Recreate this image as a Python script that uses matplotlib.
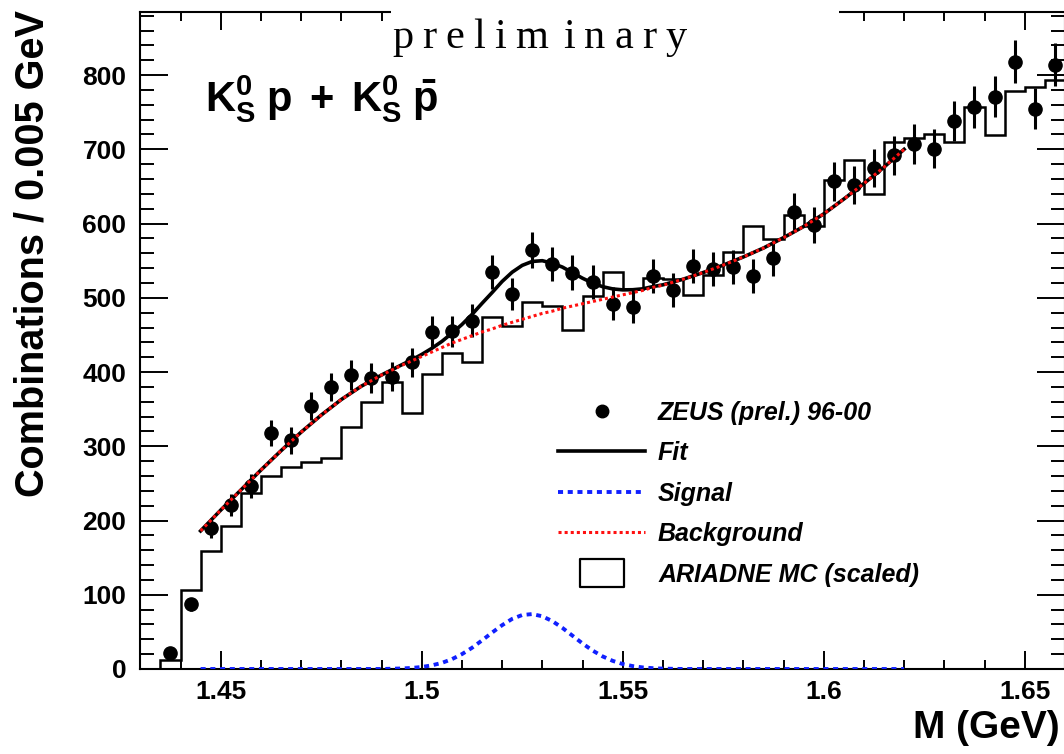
import matplotlib
matplotlib.use('Agg')
import matplotlib.pyplot as plt
from matplotlib.lines import Line2D
from matplotlib.patches import Rectangle
from matplotlib.path import Path
from matplotlib.ticker import MultipleLocator
import numpy as np

plt.rcParams['font.family'] = ['Liberation Sans', 'DejaVu Sans']
plt.rcParams['font.weight'] = 'bold'
plt.rcParams['mathtext.fontset'] = 'custom'
plt.rcParams['mathtext.rm'] = 'Liberation Sans:bold'
plt.rcParams['mathtext.bf'] = 'Liberation Sans:bold'
plt.rcParams['mathtext.it'] = 'Liberation Sans:bold:italic'

## ZEUS K0s p data, 5 MeV bins starting at 1.435 GeV
bin_lo = 1.435
bin_w = 0.005
counts = [21, 87, 190, 221, 247, 318, 308, 354, 380, 396,
          392, 394, 413, 454, 455, 469, 535, 505, 564, 545,
          534, 521, 492, 488, 529, 511, 543, 539, 542, 529,
          554, 616, 598, 657, 652, 675, 692, 707, 701, 738,
          757, 771, 818, 755, 814]
errors = [5, 9, 14, 15, 16, 18, 18, 19, 19, 20,
          20, 20, 20, 21, 21, 22, 23, 22, 24, 23,
          23, 23, 22, 22, 23, 23, 23, 23, 23, 23,
          24, 25, 24, 26, 26, 26, 26, 27, 26, 27,
          28, 28, 29, 27, 29]
# ARIADNE MC (scaled), same binning
mc_counts = [12, 106, 159, 193, 237, 260, 272, 279, 284, 326,
             360, 386, 345, 397, 426, 413, 474, 462, 494, 489,
             456, 503, 535, 512, 527, 525, 504, 531, 562, 597,
             579, 612, 597, 659, 685, 640, 710, 715, 721, 710,
             757, 719, 779, 784, 794]

# fit curves
curve_m = [1.445, 1.45, 1.455, 1.46, 1.465, 1.47, 1.475, 1.48, 1.485, 1.49, 1.495,
           1.4975, 1.50, 1.5025, 1.505, 1.5075, 1.51, 1.5125, 1.515, 1.5175, 1.52,
           1.5225, 1.525, 1.5275, 1.53, 1.5325, 1.535, 1.5375, 1.54, 1.5425, 1.545,
           1.5475, 1.55, 1.5525, 1.555, 1.5575, 1.56,
           1.565, 1.57, 1.575, 1.58, 1.585, 1.59, 1.595, 1.60, 1.605, 1.61, 1.615, 1.62]
bkg = [186, 214, 241, 268, 294, 319, 342, 363, 381, 396, 409,
       415, 421, 427, 433, 439, 444, 449, 454, 458, 463,
       467, 471, 475, 479, 482, 486, 489, 492, 495, 498,
       501, 504, 507, 510, 514, 517,
       525, 534, 544, 555, 567, 581, 596, 613, 633, 654, 676, 700]
sig = [0, 0, 0, 0, 0, 0, 0, 0, 0, 0, 0.7,
       1.4, 2.7, 4.9, 8.2, 13.2, 20, 28.5, 38.5, 49, 59,
       67.5, 72.7, 74, 71, 64.5, 55.4, 44.9, 34.4, 24.9, 17,
       11, 6.7, 3.9, 2.1, 1.1, 0.5,
       0, 0, 0, 0, 0, 0, 0, 0, 0, 0, 0, 0]

centers = bin_lo + bin_w * (np.arange(len(counts)) + 0.5)
edges = bin_lo + bin_w * np.arange(len(mc_counts) + 1)
fit = np.array(bkg) + np.array(sig)

fig = plt.figure(figsize=(10.64, 7.54), dpi=100)
ax = fig.add_axes([140.3 / 1064, 85 / 754, 924.6 / 1064, 657 / 754])

ax.stairs(mc_counts, edges, baseline=0, color='k', lw=1.8, zorder=2)
ax.errorbar(centers, counts, yerr=errors, fmt='o', color='k', ms=9.5,
            elinewidth=2.2, capsize=0, zorder=3)
ax.plot(curve_m, fit, color='k', lw=2.6, zorder=4)
ax.plot(curve_m, bkg, color='#ff1010', lw=2.2, ls=(0, (1, 1)), zorder=5)
ax.plot(curve_m, sig, color='#1020ff', lw=2.8, ls=(0, (1.3, 1.2)), zorder=5)

ax.set_xlim(1.43, 1.66)
ax.set_ylim(0, 885)
ax.set_xticks([1.45, 1.5, 1.55, 1.6, 1.65])
ax.set_xticklabels(['1.45', '1.5', '1.55', '1.6', '1.65'])
ax.xaxis.set_minor_locator(MultipleLocator(0.01))
ax.yaxis.set_major_locator(MultipleLocator(100))
ax.yaxis.set_minor_locator(MultipleLocator(20))
ax.tick_params(which='both', direction='in', top=True, right=True, width=1.4, labelsize=19)
ax.tick_params(axis='x', which='major', length=13, pad=8)
ax.tick_params(axis='x', which='minor', length=6.5)
ax.tick_params(axis='y', which='major', length=20, pad=10)
ax.tick_params(axis='y', which='minor', length=10)
for sp in ax.spines.values():
    sp.set_linewidth(1.5)

ax.set_xlabel('M (GeV)', fontsize=28, fontweight='bold')
ax.xaxis.set_label_coords(0.9947, -0.063)
ax.xaxis.label.set_ha('right')
ax.set_ylabel('Combinations / 0.005 GeV', fontsize=28.5, fontweight='bold')
ax.yaxis.set_label_coords(-0.096, 1.003)
ax.yaxis.label.set_ha('right')

ax.text(0.07, 0.848, r'$\mathbf{K^0_S\;p\;+\;K^0_S\;\bar{p}}$', transform=ax.transAxes,
        fontsize=30, va='baseline', ha='left')

# legend
box = Path([(-1.55, -1), (1.55, -1), (1.55, 1), (-1.55, 1), (-1.55, -1)],
           [Path.MOVETO, Path.LINETO, Path.LINETO, Path.LINETO, Path.CLOSEPOLY])
handles = [
    Line2D([], [], marker='o', color='k', ls='none', ms=9),
    Line2D([], [], color='k', lw=2.6),
    Line2D([], [], color='#1020ff', lw=2.8, ls=(0, (1.3, 1.2))),
    Line2D([], [], color='#ff1010', lw=2.2, ls=(0, (1, 1))),
    Line2D([], [], marker=box, ms=31, mfc='white', mec='k', mew=1.6, ls='none'),
]
labels = ['ZEUS (prel.) 96-00', 'Fit', 'Signal', 'Background', 'ARIADNE MC (scaled)']
ax.legend(handles, labels, loc='upper left', bbox_to_anchor=(0.4518, 0.4085),
          frameon=False, borderpad=0, borderaxespad=0, handlelength=3.48,
          handletextpad=0.52, labelspacing=0.66,
          prop=dict(family='Liberation Sans', weight='bold', style='italic', size=18))

# "preliminary" stamp over the top frame
fig.patches.append(Rectangle((391 / 1064, 1 - 45 / 754), (839 - 391) / 1064, 45 / 754,
                             transform=fig.transFigure, facecolor='white',
                             edgecolor='none', zorder=10))
renderer = fig.canvas.get_renderer()
xpix = 392
for ch in 'preliminary':
    t = fig.text(xpix / 1064, 1 - 48 / 754, ch, family='Liberation Serif',
                 fontweight='normal', fontsize=30.5, va='baseline', ha='left', zorder=11)
    xpix += t.get_window_extent(renderer).width + 9
    if ch == 'm':
        xpix += 7

fig.savefig('out.png', dpi=100)
